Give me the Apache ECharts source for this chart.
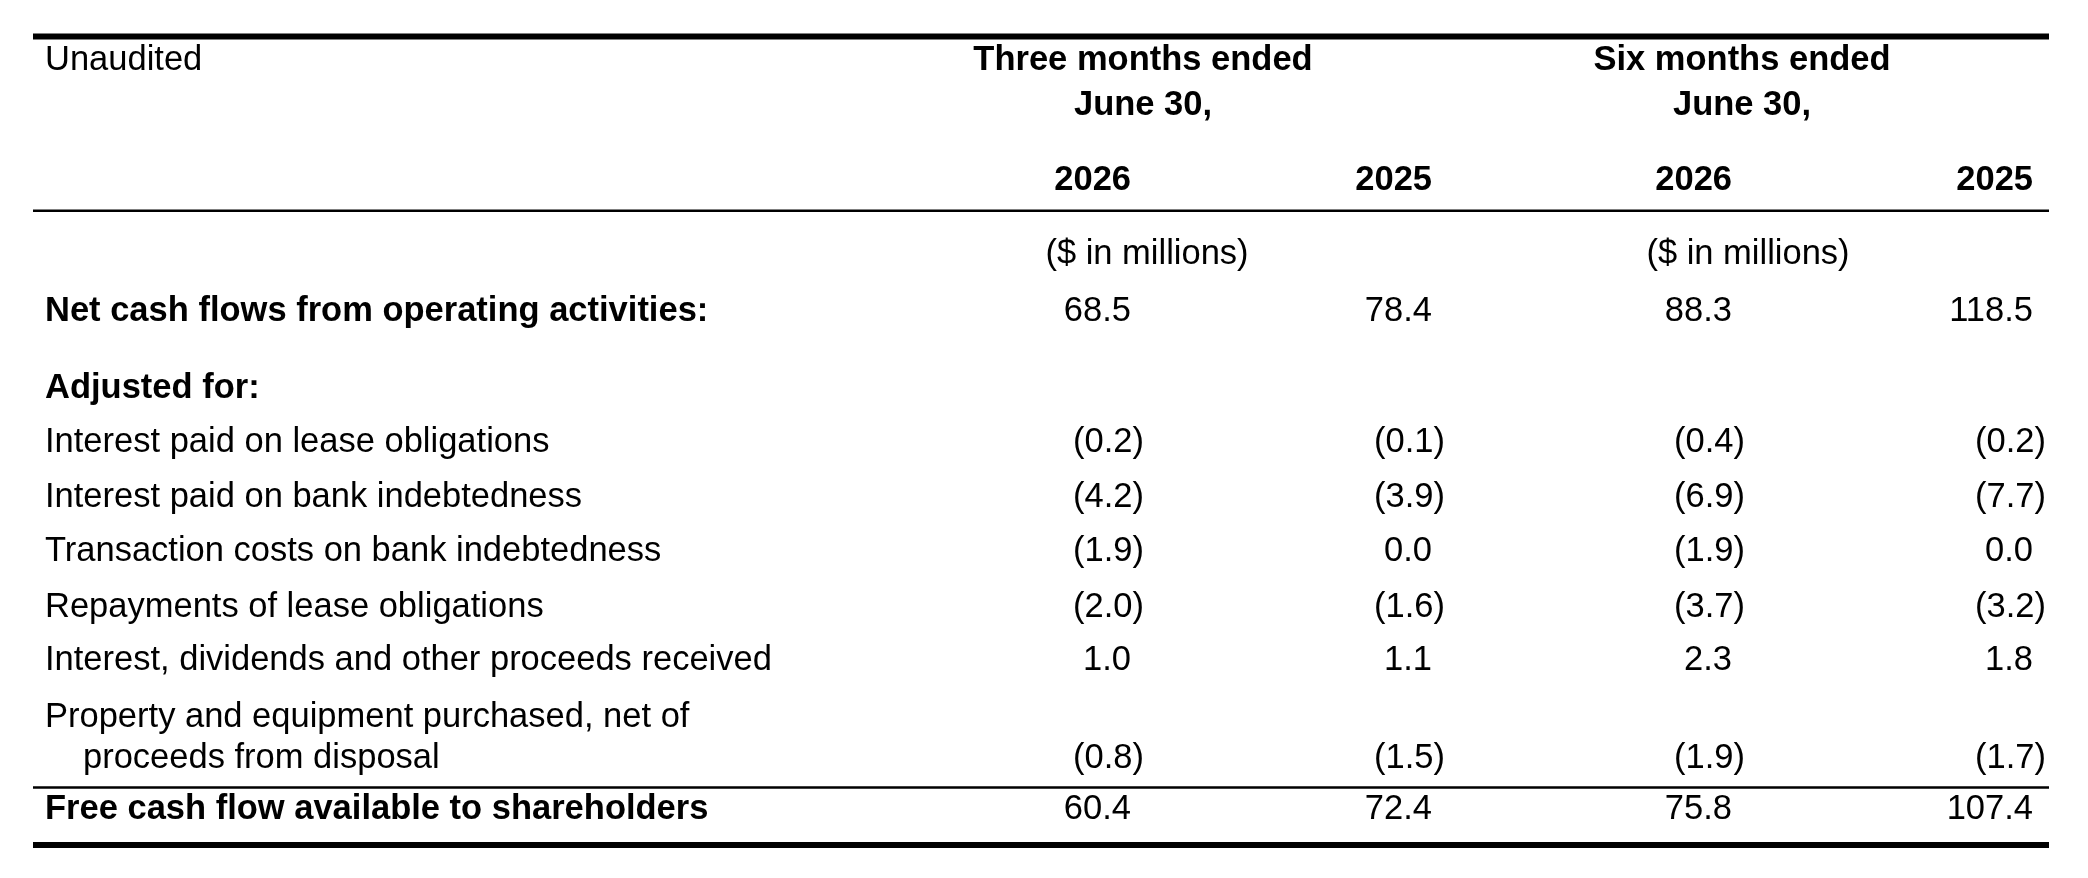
<!DOCTYPE html>
<html>
<head>
<meta charset="utf-8">
<script src="https://cdn.jsdelivr.net/npm/echarts@6/dist/echarts.min.js"></script>
<style>
html, body {margin: 0; padding: 0; background: #fff;}
#main {width: 2088px; height: 878px;}
</style>
</head>
<body>
<div id="main"></div>
<script>
// table data ---------------------------
var cornerLabel = 'Unaudited';
var groupHeaders = ['Three months ended', 'Six months ended'];
var groupSubHeaders = ['June 30,', 'June 30,'];
var yearHeaders = ['2026', '2025', '2026', '2025'];
var unitLabel = '($ in millions)';

var rowLabels = [
	'Net cash flows from operating activities:',
	'Adjusted for:',
	'Interest paid on lease obligations',
	'Interest paid on bank indebtedness',
	'Transaction costs on bank indebtedness',
	'Repayments of lease obligations',
	'Interest, dividends and other proceeds received',
	'Property and equipment purchased, net of\nproceeds from disposal',
	'Free cash flow available to shareholders'
];
var boldRows = [true, true, false, false, false, false, false, false, true];

var threeMonths2026 = [68.5, null, -0.2, -4.2, -1.9, -2.0, 1.0, -0.8, 60.4];
var threeMonths2025 = [78.4, null, -0.1, -3.9, 0.0, -1.6, 1.1, -1.5, 72.4];
var sixMonths2026 = [88.3, null, -0.4, -6.9, -1.9, -3.7, 2.3, -1.9, 75.8];
var sixMonths2025 = [118.5, null, -0.2, -7.7, 0.0, -3.2, 1.8, -1.7, 107.4];
var valueColumns = [threeMonths2026, threeMonths2025, sixMonths2026, sixMonths2025];

// layout (pixels, same units as the hidden axes) ---------------
var W = 2088, H = 878;
var fontFamily = '"Liberation Sans", Arial, Helvetica, sans-serif';
var fontSize = 34.5;
var labelX = 45, indentX = 83, lineGap = 41;
var rowY = [311, 388, 442.5, 497, 551, 607, 660.5, 717, 809]; // middle of caps
var colRight = [1131, 1432, 1732, 2033];
var parenHang = 13;
var groupCenter = [1143, 1742];
var unitCenter = [1147, 1748];
var headY = [60.5, 105, 180.5, 254.5];
var rules = [ // [y, width]
	[36.5, 6], [210.8, 2.6], [787.5, 2.6], [845, 6]
];
var ruleX = [33, 2049];

function fmt(v) {
	return v < 0 ? '(' + Math.abs(v).toFixed(1) + ')' : v.toFixed(1);
}

// build text cells
var cells = [];
cells.push({x: labelX, y: headY[0], text: cornerLabel, align: 'left', bold: false});
groupHeaders.forEach(function(t, i) {
	cells.push({x: groupCenter[i], y: headY[0], text: t, align: 'center', bold: true});
	cells.push({x: groupCenter[i], y: headY[1], text: groupSubHeaders[i], align: 'center', bold: true});
	cells.push({x: unitCenter[i], y: headY[3], text: unitLabel, align: 'center', bold: false});
});
yearHeaders.forEach(function(t, i) {
	cells.push({x: colRight[i], y: headY[2], text: t, align: 'right', bold: true});
});
rowLabels.forEach(function(label, r) {
	var lines = label.split('\n');
	lines.forEach(function(line, k) {
		cells.push({x: k ? indentX : labelX, y: rowY[r] + k * lineGap, text: line, align: 'left', bold: boldRows[r]});
	});
	var vy = rowY[r] + (lines.length - 1) * lineGap;
	valueColumns.forEach(function(col, c) {
		var v = col[r];
		if (v == null) return;
		cells.push({x: colRight[c] + (v < 0 ? parenHang : 0), y: vy, text: fmt(v), align: 'right', bold: false});
	});
});

var myChart = echarts.init(document.getElementById('main'));

var option = {
	backgroundColor: '#fff',
	animation: false,
	grid: {left: 0, right: 0, top: 0, bottom: 0},
	xAxis: {type: 'value', min: 0, max: W, show: false},
	yAxis: {type: 'value', min: 0, max: H, inverse: true, show: false},
	series: [
		{
			name: 'rules',
			type: 'custom',
			data: rules.map(function(r) { return [r[0], r[1]]; }),
			renderItem: function(params, api) {
				var p0 = api.coord([ruleX[0], api.value(0)]);
				var p1 = api.coord([ruleX[1], api.value(0)]);
				return {
					type: 'line',
					shape: {x1: p0[0], y1: p0[1], x2: p1[0], y2: p1[1]},
					style: {stroke: '#000', lineWidth: api.value(1)}
				};
			}
		},
		{
			name: 'cells',
			type: 'custom',
			data: cells.map(function(c) { return [c.x, c.y]; }),
			renderItem: function(params, api) {
				var c = cells[params.dataIndex];
				var p = api.coord([api.value(0), api.value(1)]);
				return {
					type: 'text',
					x: p[0],
					y: p[1],
					style: {
						text: c.text,
						fill: '#000',
						font: (c.bold ? 'bold ' : '') + fontSize + 'px ' + fontFamily,
						align: c.align,
						verticalAlign: 'middle'
					}
				};
			}
		}
	]
};
myChart.setOption(option);
</script>
</body>
</html>
